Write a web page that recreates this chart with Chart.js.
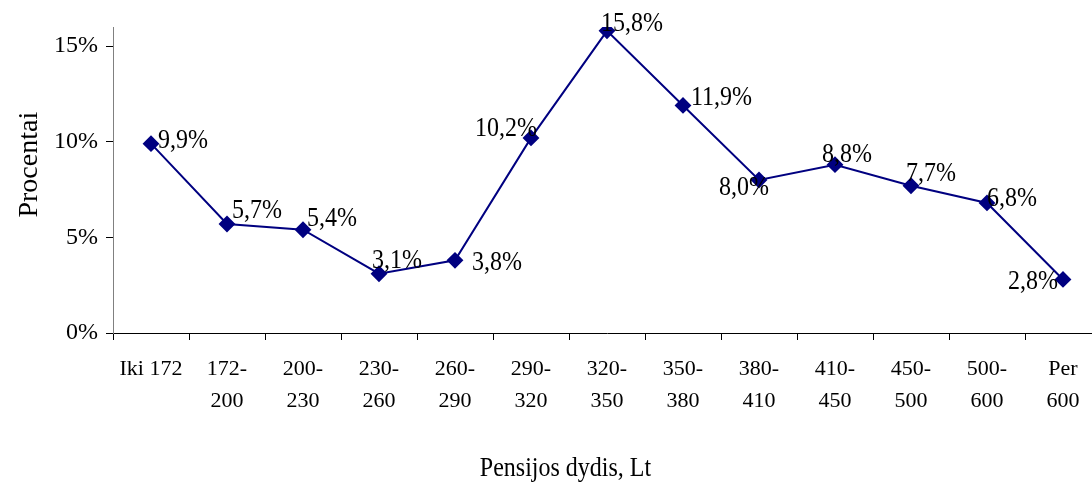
<!DOCTYPE html>
<html>
<head>
<meta charset="utf-8">
<script src="https://cdn.jsdelivr.net/npm/chart.js@4/dist/chart.umd.min.js"></script>
<style>
  html, body { margin: 0; padding: 0; background: #fff; overflow: hidden; }
  #wrap { width: 1092px; height: 485px; overflow: hidden; }
</style>
</head>
<body>
<div id="wrap"><canvas id="chart" width="1110" height="485"></canvas></div>
<script>
const categories = [
  'Iki 172', ['172-', '200'], ['200-', '230'], ['230-', '260'], ['260-', '290'],
  ['290-', '320'], ['320-', '350'], ['350-', '380'], ['380-', '410'],
  ['410-', '450'], ['450-', '500'], ['500-', '600'], ['Per', '600']
];
const shares = [9.9, 5.7, 5.4, 3.1, 3.8, 10.2, 15.8, 11.9, 8.0, 8.8, 7.7, 6.8, 2.8];
const yTicks = [0, 5, 10, 15];
const xTitle = 'Pensijos dydis, Lt';
const yTitle = 'Procentai';

// where each value label sits relative to its marker (dx to text start, dy to text middle)
const labelOffsets = [
  [7, -3], [5, -13], [4, -11], [-7, -13], [17, 2], [-56, -9], [-6, -7],
  [8, -8], [-40, 8], [-13, -10], [-5, -12], [0, -4], [-55, 2]
];

const serif = '"Liberation Serif", "Times New Roman", serif';
const stretch = 1.15; // source text looks a bit taller than normal

function tallText(ctx, txt, x, y) {
  ctx.save();
  ctx.translate(x, y);
  ctx.scale(1, stretch);
  ctx.fillText(txt, 0, 0);
  ctx.restore();
}

const extraText = {
  id: 'extraText',
  afterDatasetsDraw(chart) {
    const ctx = chart.ctx;
    const meta = chart.getDatasetMeta(0);
    ctx.save();
    ctx.fillStyle = '#000';
    ctx.textBaseline = 'middle';
    ctx.font = '24px ' + serif;
    ctx.textAlign = 'left';
    meta.data.forEach((pt, i) => {
      const txt = shares[i].toFixed(1).replace('.', ',') + '%';
      const off = labelOffsets[i];
      tallText(ctx, txt, pt.x + off[0], pt.y + off[1]);
    });

    // axis titles
    const area = chart.chartArea;
    ctx.textAlign = 'center';
    ctx.font = '24px ' + serif;
    tallText(ctx, xTitle, area.left + (area.right - area.left) * 0.458, chart.height - 16);

    ctx.font = '28px ' + serif;
    ctx.save();
    ctx.translate(30, area.top + (area.bottom - area.top) * 0.45);
    ctx.rotate(-Math.PI / 2);
    ctx.fillText(yTitle, 0, 0);
    ctx.restore();
    ctx.restore();
  }
};

new Chart(document.getElementById('chart'), {
  type: 'line',
  data: {
    labels: categories,
    datasets: [{
      data: shares,
      borderColor: '#000080',
      backgroundColor: '#000080',
      borderWidth: 2,
      pointStyle: 'rectRot',
      pointRadius: 7,
      pointHoverRadius: 7,
      tension: 0
    }]
  },
  options: {
    responsive: false,
    animation: false,
    events: [],
    layout: { padding: { top: 27, right: 0 } },
    plugins: {
      legend: { display: false },
      tooltip: { enabled: false }
    },
    scales: {
      x: {
        offset: true,
        afterFit: s => { s.height = 152; },
        grid: { drawOnChartArea: false, drawTicks: true, tickLength: 7, color: '#000', offset: true },
        border: { color: '#000', width: 1 },
        ticks: {
          autoSkip: false, maxRotation: 0, padding: 13,
          color: '#000',
          font: { family: serif, size: 22, lineHeight: 1.45 }
        }
      },
      y: {
        min: 0, max: 16,
        afterFit: s => { s.width = 113; },
        afterBuildTicks: s => { s.ticks = yTicks.map(v => ({ value: v })); },
        grid: { drawOnChartArea: false, drawTicks: true, tickLength: 7, color: '#000' },
        border: { color: '#808080', width: 1 },
        ticks: {
          padding: 8, color: '#000',
          font: { family: serif, size: 24 },
          callback: v => v + '%'
        }
      }
    }
  },
  plugins: [extraText]
});
</script>
</body>
</html>
